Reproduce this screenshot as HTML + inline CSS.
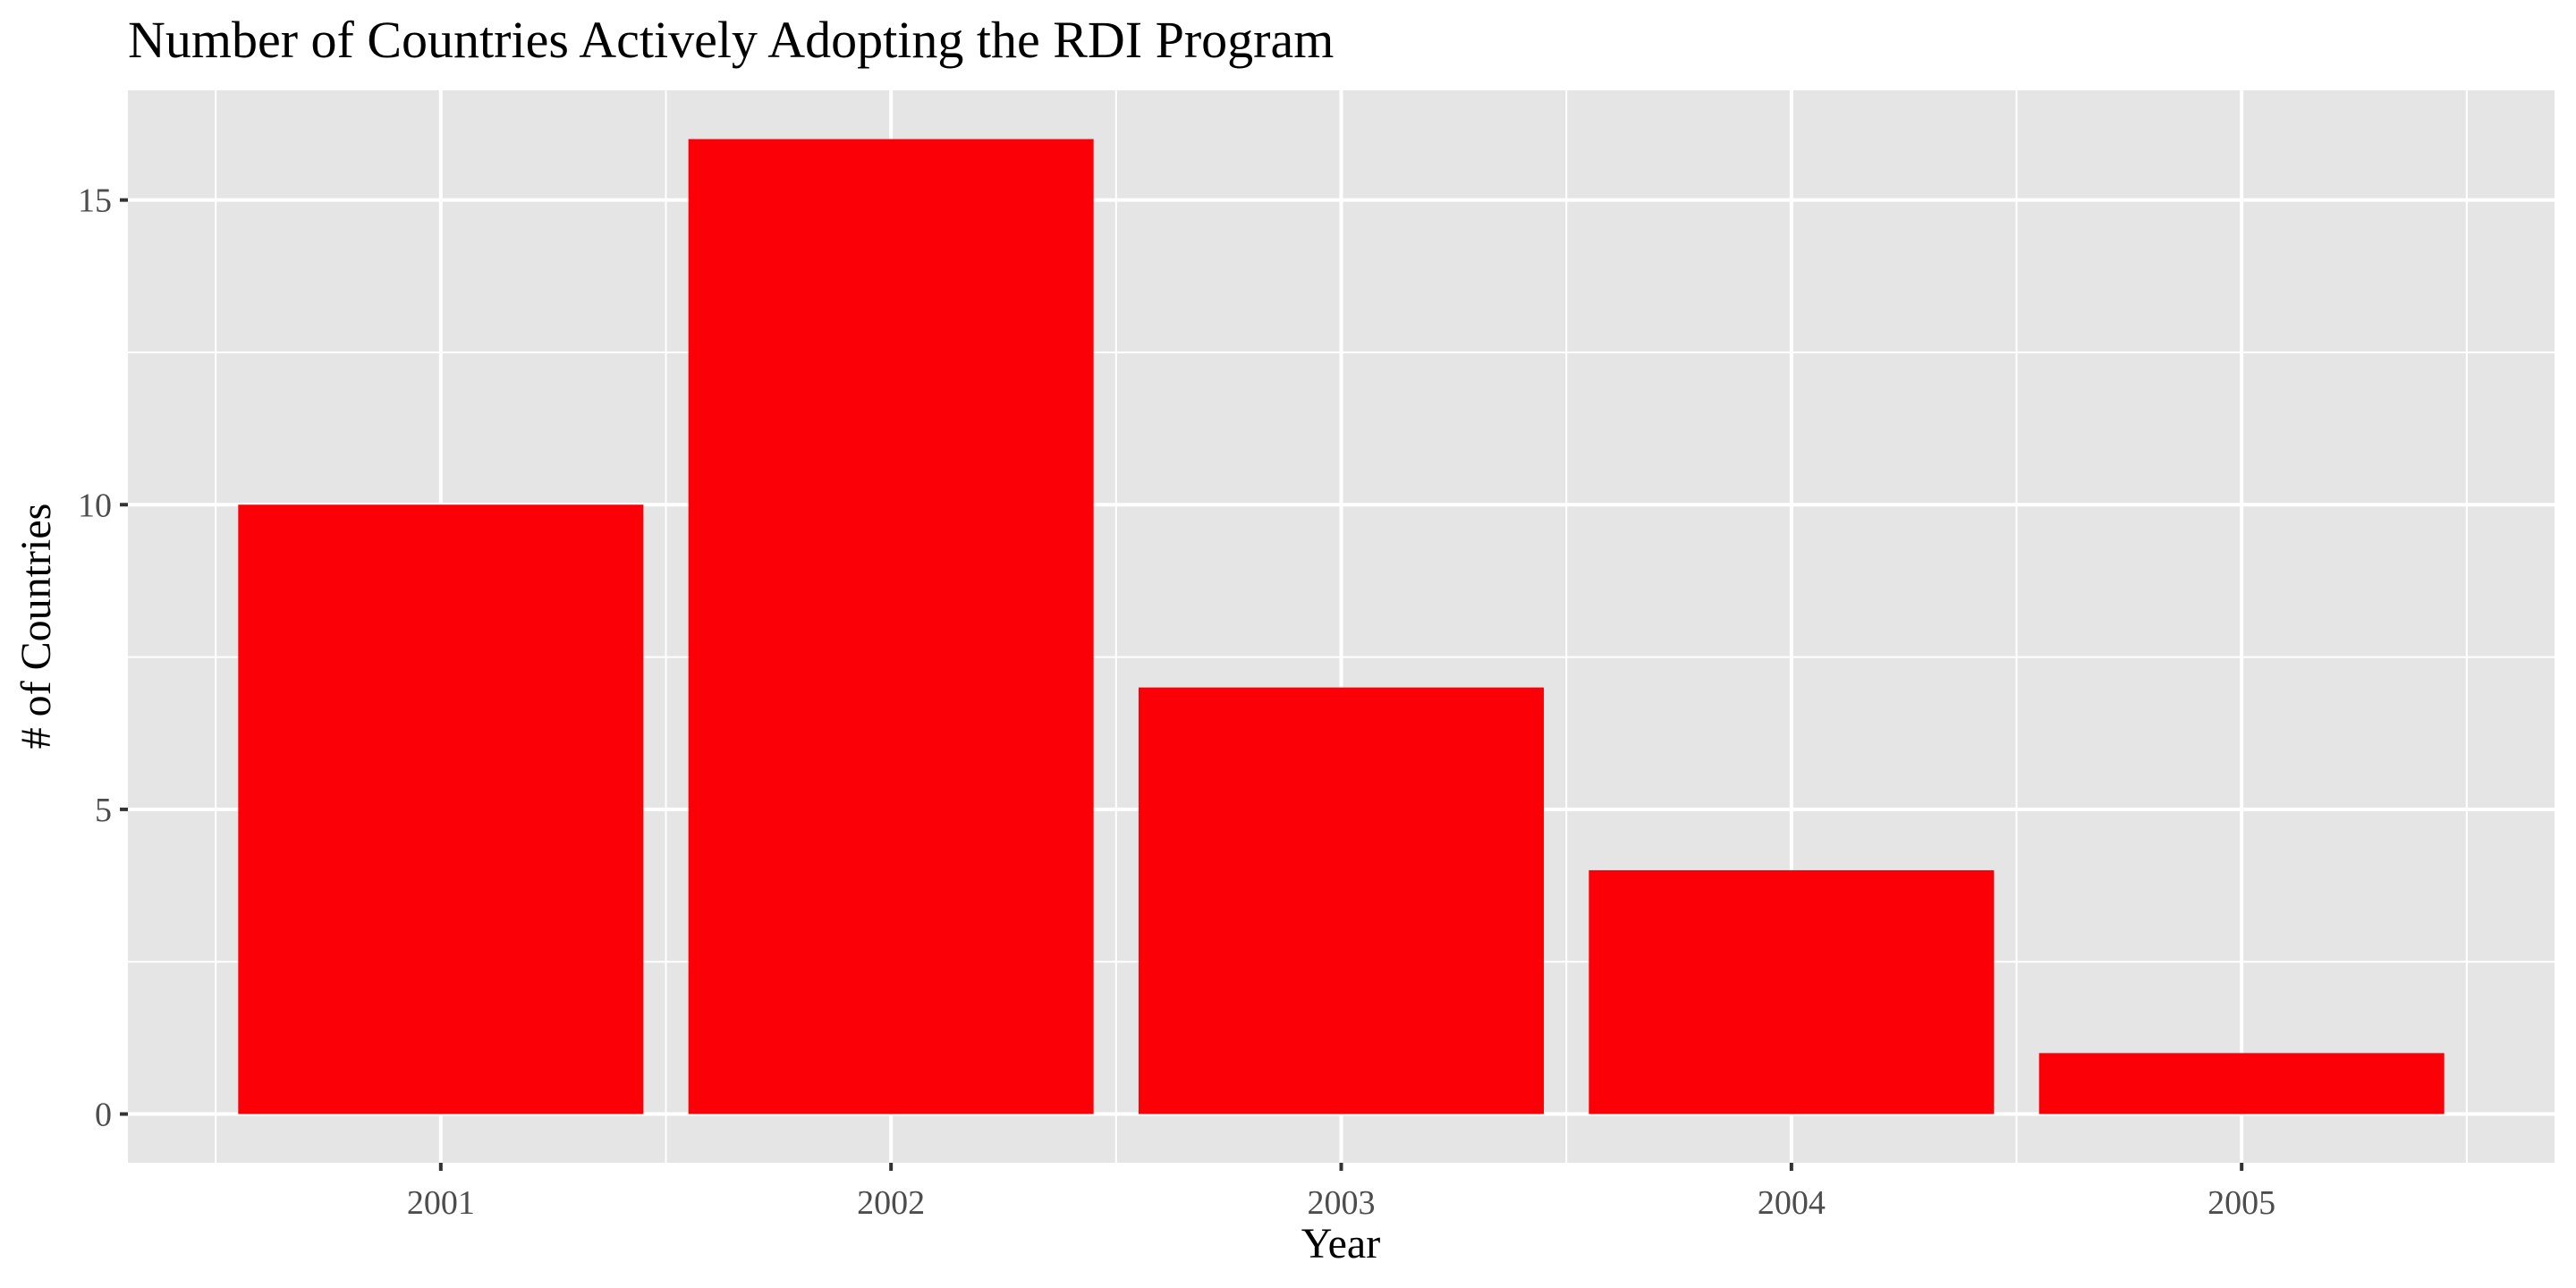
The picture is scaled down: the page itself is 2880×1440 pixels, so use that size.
<!DOCTYPE html>
<html><head><meta charset="utf-8"><style>
html,body{margin:0;padding:0;background:#fff}
svg{display:block}
text{font-family:"Liberation Serif",serif}
</style></head><body>
<svg id="chart" width="2880" height="1440" viewBox="0 0 2880 1440" xmlns="http://www.w3.org/2000/svg">
<text x="143" y="64" font-size="58" fill="#000">Number of Countries Actively Adopting the RDI Program</text>
<rect x="143" y="101" width="2713" height="1199" fill="#e5e5e5"/>
<g id="grid"></g>
<g id="bars"></g>
<g id="axes"></g>
<text x="1499" y="1406" font-size="48" text-anchor="middle" fill="#000">Year</text>
<text transform="translate(56,700) rotate(-90)" font-size="48" text-anchor="middle" fill="#000"># of Countries</text>
</svg>
<script>
const categories = [2001, 2002, 2003, 2004, 2005];
const values = [10, 16, 7, 4, 1];
const yTicks = [0, 5, 10, 15];
const yMinor = [2.5, 7.5, 12.5];

const NS = "http://www.w3.org/2000/svg";
const P = {l:143, r:2856, t:101, b:1300};
const xMin = 2000.305, xMax = 2005.695;
const yMaxData = Math.max(...values);
const yLo = -0.05*yMaxData, yHi = yMaxData*1.05;
function xs(v){return P.l + (v - xMin)/(xMax - xMin)*(P.r - P.l);}
function ys(v){return P.b - (v - yLo)/(yHi - yLo)*(P.b - P.t);}
function mk(tag, attrs, parent){const e=document.createElementNS(NS,tag);for(const k in attrs)e.setAttribute(k,attrs[k]);parent.appendChild(e);return e;}
const grid=document.getElementById('grid'), bars=document.getElementById('bars'), axes=document.getElementById('axes');

yMinor.forEach(v=>{
  const l=mk('line',{x1:P.l,x2:P.r,y1:ys(v),y2:ys(v),stroke:'#fff','stroke-width':2},grid);
  
  
});
const xMinorVals=[categories[0]-0.5].concat(categories.map(c=>c+0.5));
xMinorVals.forEach(v=>{
  const l=mk('line',{x1:xs(v),x2:xs(v),y1:P.t,y2:P.b,stroke:'#fff','stroke-width':2},grid);
  
  
});
yTicks.forEach(v=>{
  const l=mk('line',{x1:P.l,x2:P.r,y1:ys(v),y2:ys(v),stroke:'#fff','stroke-width':4},grid);
  
  
  const t=mk('line',{x1:P.l-9,x2:P.l,y1:ys(v),y2:ys(v),stroke:'#333','stroke-width':4},axes);
  
  
  const tx=mk('text',{x:P.l-18,y:ys(v)+13,'font-size':38,'text-anchor':'end',fill:'#4d4d4d'},axes);
  tx.textContent=v;
  
  
});
categories.forEach((c,i)=>{
  const l=mk('line',{x1:xs(c),x2:xs(c),y1:P.t,y2:P.b,stroke:'#fff','stroke-width':4},grid);
  
  
  const x0=xs(c-0.45), x1=xs(c+0.45);
  const r=mk('rect',{x:x0,y:ys(values[i]),width:x1-x0,height:ys(0)-ys(values[i]),fill:'#fb0007'},bars);
  
  
  const t=mk('line',{x1:xs(c),x2:xs(c),y1:P.b,y2:P.b+9,stroke:'#333','stroke-width':4},axes);
  
  
  const tx=mk('text',{x:xs(c),y:1357,'font-size':38,'text-anchor':'middle',fill:'#4d4d4d'},axes);
  tx.textContent=c;
  
  
});
</script>
</body></html>
